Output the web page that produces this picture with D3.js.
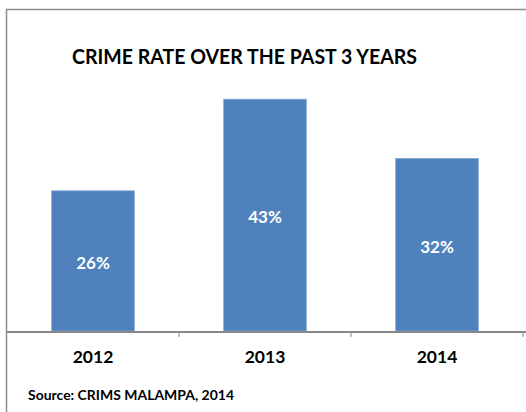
<!DOCTYPE html>
<html>
<head>
<meta charset="utf-8">
<script src="https://cdn.jsdelivr.net/npm/d3@7"></script>
<style>
  html, body { margin: 0; padding: 0; background: #fff; }
  svg { display: block; }
  text { font-family: Lato, "Open Sans", "Liberation Sans", sans-serif; font-weight: bold; }
</style>
</head>
<body>
<svg id="chart" width="526" height="412"></svg>
<script>
// Crime rate by year
const years = ["2012", "2013", "2014"];
const rates = [26, 43, 32];
const titleText = "CRIME RATE OVER THE PAST 3 YEARS";
const sourceText = "Source: CRIMS MALAMPA, 2014";

const svg = d3.select("#chart");
const W = 526, H = 412;

// chart frame
svg.append("path")
  .attr("d", `M6.5,${H} V9.5 H${W}`)
  .attr("fill", "none")
  .attr("stroke", "#8c8c8c")
  .attr("stroke-width", 1.5);

const baseY = 331;
const x = d3.scaleBand()
  .domain(years)
  .range([7, 523])
  .paddingInner(0.52)
  .paddingOuter(0.26);

const y = d3.scaleLinear()
  .domain([0, 50])
  .range([baseY, baseY - 50 * 5.39]);

const data = years.map((yr, i) => ({ year: yr, rate: rates[i] }));

// bars
svg.selectAll("rect.bar")
  .data(data)
  .join("rect")
  .attr("class", "bar")
  .attr("x", d => x(d.year))
  .attr("y", d => y(d.rate))
  .attr("width", x.bandwidth())
  .attr("height", d => y(0) - y(d.rate))
  .attr("fill", "#4f81bd")
  .attr("stroke", "#7ea3d2")
  .attr("stroke-width", 0.8);

// value labels, centred in each bar
svg.selectAll("text.val")
  .data(data)
  .join("text")
  .attr("class", "val")
  .attr("x", d => x(d.year) + x.bandwidth() / 2)
  .attr("y", d => (y(d.rate) + y(0)) / 2 + 8)
  .attr("text-anchor", "middle")
  .attr("fill", "#ffffff")
  .attr("font-size", 17)
  .text(d => d.rate + "%");

// category axis
svg.append("line")
  .attr("x1", 6).attr("x2", W)
  .attr("y1", baseY + 1).attr("y2", baseY + 1)
  .attr("stroke", "#878787")
  .attr("stroke-width", 2);

svg.selectAll("line.tick")
  .data(years)
  .join("line")
  .attr("class", "tick")
  .attr("x1", d => x(d) + x.bandwidth() / 2 + x.step() / 2)
  .attr("x2", d => x(d) + x.bandwidth() / 2 + x.step() / 2)
  .attr("y1", baseY + 1)
  .attr("y2", baseY + 6)
  .attr("stroke", "#878787")
  .attr("stroke-width", 1);

svg.selectAll("text.cat")
  .data(years)
  .join("text")
  .attr("class", "cat")
  .attr("x", d => x(d) + x.bandwidth() / 2)
  .attr("y", 363)
  .attr("text-anchor", "middle")
  .attr("fill", "#000")
  .attr("font-size", 17.5)
  .text(d => d);

// title
svg.append("text")
  .attr("x", 72)
  .attr("y", 64)
  .attr("fill", "#000")
  .attr("font-size", 21)
  .attr("textLength", 345)
  .attr("lengthAdjust", "spacingAndGlyphs")
  .text(titleText);

// source note
svg.append("text")
  .attr("x", 28)
  .attr("y", 400)
  .attr("fill", "#000")
  .attr("font-size", 13)
  .attr("textLength", 206)
  .attr("lengthAdjust", "spacingAndGlyphs")
  .text(sourceText);
</script>
</body>
</html>
